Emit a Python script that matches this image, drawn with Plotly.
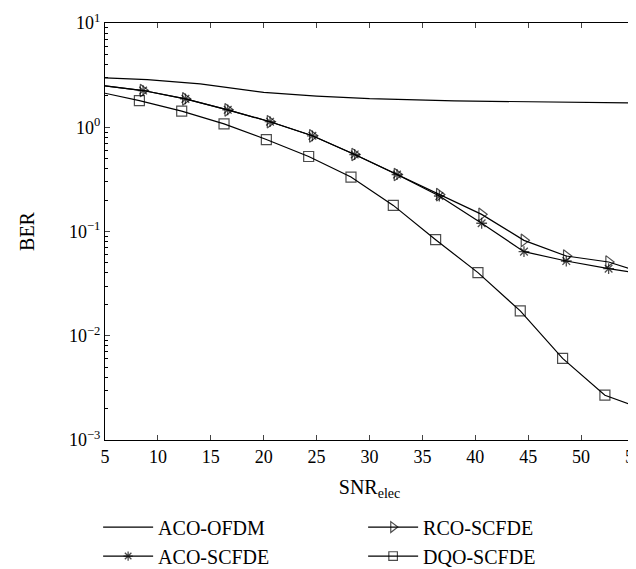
import plotly.graph_objects as go

# ---- data ----
x_ofdm = [5, 9, 14, 20, 25, 30, 38, 46, 55]
aco_ofdm = [2.97, 2.86, 2.61, 2.16, 1.99, 1.88, 1.79, 1.74, 1.71]

x_sc = [5, 8.6, 12.6, 16.6, 20.6, 24.6, 28.6, 32.6, 36.6, 40.6, 44.6, 48.6, 52.6, 55]
aco_scfde = [2.49, 2.25, 1.87, 1.47, 1.13, 0.828, 0.548, 0.352, 0.219, 0.12, 0.0641, 0.0521, 0.044, 0.0403]
rco_scfde = [2.49, 2.25, 1.87, 1.47, 1.13, 0.828, 0.548, 0.352, 0.226, 0.146, 0.0822, 0.0582, 0.051, 0.0428]

x_dqo = [5, 8.25, 12.25, 16.25, 20.25, 24.25, 28.25, 32.25, 36.25, 40.25, 44.25, 48.25, 52.25, 55]
dqo_scfde = [2.12, 1.80, 1.43, 1.078, 0.762, 0.524, 0.333, 0.178, 0.0834, 0.0403, 0.0173, 0.00606, 0.00269, 0.00213]

x_ticks = [5, 10, 15, 20, 25, 30, 35, 40, 45, 50, 55]
y_ticks = [1e-3, 1e-2, 1e-1, 1e0, 1e1]
y_ticktext = ["10<sup>\u22123</sup>", "10<sup>\u22122</sup>", "10<sup>\u22121</sup>", "10<sup>0</sup>", "10<sup>1</sup>"]

FONT = "Liberation Serif"

def msizes(n, s):
    # markers only on interior points; line continues to the plot edges
    return [0] + [s] * (n - 2) + [0]

fig = go.Figure()
fig.add_trace(go.Scatter(x=x_ofdm, y=aco_ofdm, mode="lines", name="ACO-OFDM",
                         line=dict(color="black", width=1.2)))
fig.add_trace(go.Scatter(x=x_sc, y=rco_scfde, mode="lines+markers", name="RCO-SCFDE",
                         line=dict(color="black", width=1.2),
                         marker=dict(symbol="triangle-right-open", size=msizes(len(x_sc), 11),
                                     color="black", line=dict(width=1.2, color="black"))))
fig.add_trace(go.Scatter(x=x_sc, y=aco_scfde, mode="lines+markers", name="ACO-SCFDE",
                         line=dict(color="black", width=1.2),
                         marker=dict(symbol="asterisk-open", size=msizes(len(x_sc), 9),
                                     color="black", line=dict(width=1.3, color="black"))))
fig.add_trace(go.Scatter(x=x_dqo, y=dqo_scfde, mode="lines+markers", name="DQO-SCFDE",
                         line=dict(color="black", width=1.2),
                         marker=dict(symbol="square-open", size=msizes(len(x_dqo), 10),
                                     color="black", line=dict(width=1.2, color="black"))))

minor_vals = [m * 10 ** k for k in range(-3, 1) for m in range(2, 10)]

fig.update_layout(
    width=636, height=569,
    margin=dict(l=97, r=10, t=15, b=137, autoexpand=False),
    paper_bgcolor="white", plot_bgcolor="white",
    font=dict(family=FONT, size=18, color="black"),
    showlegend=True,
    legend=dict(orientation="h", x=-0.013, xanchor="left", y=-0.162, yanchor="top",
                entrywidth=200, entrywidthmode="pixels",
                font=dict(family=FONT, size=20, color="black"),
                tracegroupgap=0, itemwidth=50, bgcolor="rgba(0,0,0,0)"),
    xaxis=dict(range=[5, 55], tickvals=x_ticks, ticks="inside", ticklen=5, tickwidth=1,
               showline=True, linecolor="black", linewidth=1.2, mirror="ticks",
               showgrid=False, zeroline=False,
               title=dict(text="SNR<sub>elec</sub>", font=dict(family=FONT, size=20), standoff=14),
               tickfont=dict(family=FONT, size=18)),
    yaxis=dict(type="log", range=[-3, 1], tickvals=y_ticks, ticktext=y_ticktext,
               ticks="inside", ticklen=5, tickwidth=1,
               minor=dict(tickvals=minor_vals, ticks="inside", ticklen=3, tickcolor="black"),
               showline=True, linecolor="black", linewidth=1.2, mirror="ticks",
               showgrid=False, zeroline=False,
               title=dict(text="BER", font=dict(family=FONT, size=20), standoff=28),
               tickfont=dict(family=FONT, size=18)),
)

fig.write_html("out.html")
